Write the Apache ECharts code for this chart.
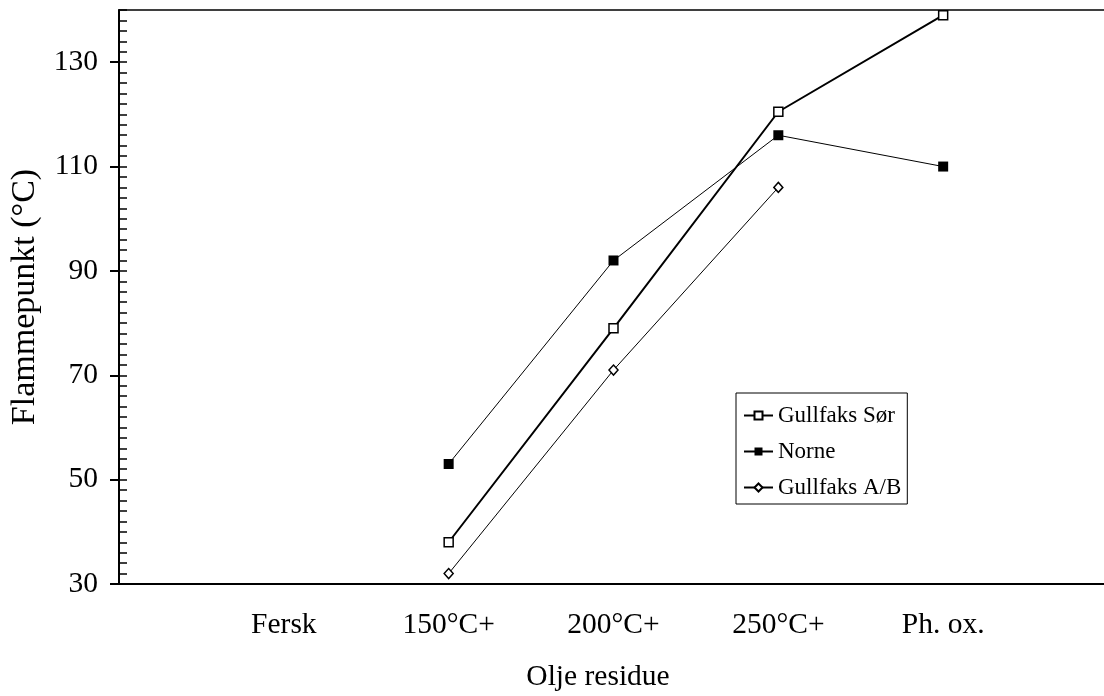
<!DOCTYPE html>
<html>
<head>
<meta charset="utf-8">
<script src="https://cdn.jsdelivr.net/npm/echarts@6/dist/echarts.min.js"></script>
<style>
  html, body { margin: 0; padding: 0; background: #fff; }
  #chart { width: 1104px; height: 696px; }
</style>
</head>
<body>
<div id="chart"></div>
<script>
// Residue categories along the x axis
const categories = ['Fersk', '150°C+', '200°C+', '250°C+', 'Ph. ox.'];

// Flash point (°C) per residue
const gullfaksSor = [null, 38, 79, 120.5, 139];
const norne = [null, 53, 92, 116, 110];
const gullfaksAB = [null, 32, 71, 106, null];

// Labelled y ticks
const yTickLabels = [30, 50, 70, 90, 110, 130];

const FONT = '"Liberation Serif", "Times New Roman", serif';

// One empty slot on each side so the categories sit inside the frame
const xData = [''].concat(categories, ['']);
const pad = arr => [null].concat(arr, [null]);

const chart = echarts.init(document.getElementById('chart'), null, { renderer: 'canvas' });

chart.setOption({
  animation: false,
  backgroundColor: '#fff',
  grid: { left: 119, right: -4, top: 10, bottom: 112, containLabel: false, outerBoundsMode: 'none' },
  legend: {
    orient: 'vertical',
    left: 736,
    top: 393,
    padding: [11, 6, 5, 7],
    itemGap: 13,
    itemWidth: 29,
    itemHeight: 10,
    borderColor: '#000',
    borderWidth: 1,
    backgroundColor: '#fff',
    textStyle: { fontFamily: FONT, fontSize: 23, color: '#000' },
    data: ['Gullfaks Sør', 'Norne', 'Gullfaks A/B']
  },
  xAxis: [
    {
      type: 'category',
      data: xData,
      boundaryGap: false,
      name: 'Olje residue',
      nameLocation: 'middle',
      nameGap: 78,
      nameTextStyle: { fontFamily: FONT, fontSize: 29.5, color: '#000', padding: [0, 31, 0, 0] },
      axisLine: { show: true, lineStyle: { color: '#000', width: 2 } },
      axisTick: { show: false },
      axisLabel: { fontFamily: FONT, fontSize: 29.5, color: '#000', margin: 26, interval: 0 },
      splitLine: { show: false }
    },
    {
      type: 'category',
      data: xData,
      boundaryGap: false,
      position: 'top',
      axisLine: { show: true, lineStyle: { color: '#000', width: 1.5 } },
      axisTick: { show: false },
      axisLabel: { show: false },
      splitLine: { show: false }
    }
  ],
  yAxis: [
    {
      type: 'value',
      min: 30,
      max: 140,
      interval: 20,
      name: 'Flammepunkt (°C)',
      nameLocation: 'middle',
      nameGap: 77,
      nameTextStyle: { fontFamily: FONT, fontSize: 34, color: '#000' },
      axisLine: { show: true, lineStyle: { color: '#000', width: 2 } },
      axisTick: { show: true, inside: false, length: 9, lineStyle: { color: '#000', width: 2 }, customValues: yTickLabels },
      axisLabel: { fontFamily: FONT, fontSize: 29.5, color: '#000', margin: 21, customValues: yTickLabels },
      splitLine: { show: false }
    },
    {
      type: 'value',
      min: 30,
      max: 140,
      interval: 2,
      position: 'left',
      axisLine: { show: false },
      axisTick: { show: true, inside: true, length: 8, lineStyle: { color: '#000', width: 1.5 } },
      axisLabel: { show: false },
      splitLine: { show: false }
    }
  ],
  series: [
    {
      name: 'Gullfaks Sør',
      type: 'line',
      data: pad(gullfaksSor),
      symbol: 'rect',
      symbolSize: 9,
      showAllSymbol: true,
      lineStyle: { color: '#000', width: 2 },
      itemStyle: { color: '#fff', borderColor: '#000', borderWidth: 1.5 },
      z: 3
    },
    {
      name: 'Norne',
      type: 'line',
      data: pad(norne),
      symbol: 'rect',
      symbolSize: 10,
      showAllSymbol: true,
      lineStyle: { color: '#000', width: 1 },
      itemStyle: { color: '#000', borderColor: '#000', borderWidth: 0 },
      z: 2
    },
    {
      name: 'Gullfaks A/B',
      type: 'line',
      data: pad(gullfaksAB),
      symbol: 'diamond',
      symbolSize: [9, 10],
      showAllSymbol: true,
      lineStyle: { color: '#000', width: 1 },
      itemStyle: { color: '#fff', borderColor: '#000', borderWidth: 1.5 },
      z: 2
    }
  ]
});
</script>
</body>
</html>
